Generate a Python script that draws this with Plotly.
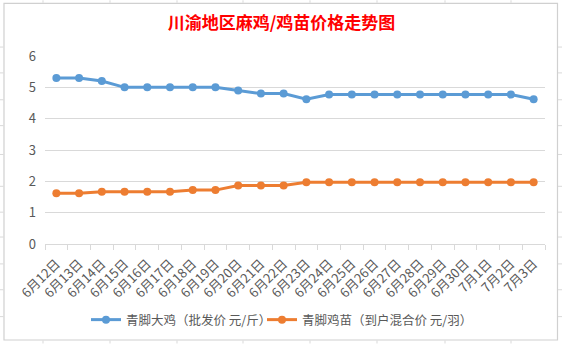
import plotly.graph_objects as go

dates = ["6月12日", "6月13日", "6月14日", "6月15日", "6月16日", "6月17日", "6月18日", "6月19日",
         "6月20日", "6月21日", "6月22日", "6月23日", "6月24日", "6月25日", "6月26日", "6月27日",
         "6月28日", "6月29日", "6月30日", "7月1日", "7月2日", "7月3日"]
big_chicken = [5.3, 5.3, 5.2, 5.0, 5.0, 5.0, 5.0, 5.0, 4.9, 4.8, 4.8, 4.62,
               4.77, 4.77, 4.77, 4.77, 4.77, 4.77, 4.77, 4.77, 4.77, 4.62]
chick = [1.62, 1.62, 1.67, 1.67, 1.67, 1.67, 1.72, 1.72, 1.87, 1.87, 1.87, 1.97,
         1.97, 1.97, 1.97, 1.97, 1.97, 1.97, 1.97, 1.97, 1.97, 1.97]
name1 = "青脚大鸡（批发价 元/斤）"
name2 = "青脚鸡苗（到户混合价 元/羽）"
title = "川渝地区麻鸡/鸡苗价格走势图"

W, H = 562, 345
L, R, T, B = 45, 17, 56, 100
FONT = "Noto Sans CJK SC"
GRAY = "#595959"
GRID = "#d9d9d9"

fig = go.Figure()
fig.add_trace(go.Scatter(x=dates, y=big_chicken, name=name1, mode="lines+markers",
                         line=dict(color="#5b9bd5", width=3),
                         marker=dict(color="#5b9bd5", size=8), legend="legend"))
fig.add_trace(go.Scatter(x=dates, y=chick, name=name2, mode="lines+markers",
                         line=dict(color="#ed7d31", width=3),
                         marker=dict(color="#ed7d31", size=8), legend="legend2"))

pw, ph = W - L - R, H - T - B
def px(x):
    return (x - L) / pw
def py(y):
    return (H - B - y) / ph

shapes = []
# chart outer border
shapes.append(dict(type="rect", xref="paper", yref="paper",
                   x0=px(4), x1=px(557.5), y0=py(341.5), y1=py(3),
                   line=dict(color="#d0d0d0", width=1.2), layer="below"))
# spreadsheet grid fragments outside the chart
for yy in [47, 73, 100, 126, 155, 187, 213, 238, 265, 291, 318]:
    shapes.append(dict(type="line", xref="paper", yref="paper", x0=px(0), x1=px(3.5),
                       y0=py(yy), y1=py(yy), line=dict(color="#d9d9d9", width=1)))
    shapes.append(dict(type="line", xref="paper", yref="paper", x0=px(558), x1=px(562),
                       y0=py(yy), y1=py(yy), line=dict(color="#d9d9d9", width=1)))
for xx in [43, 110, 177, 243, 310, 377, 445, 511]:
    shapes.append(dict(type="line", xref="paper", yref="paper", x0=px(xx), x1=px(xx),
                       y0=py(0), y1=py(2.5), line=dict(color="#d9d9d9", width=1)))
    shapes.append(dict(type="line", xref="paper", yref="paper", x0=px(xx), x1=px(xx),
                       y0=py(342), y1=py(345), line=dict(color="#d9d9d9", width=1)))

leg_common = dict(orientation="h", xanchor="left", y=py(320), yanchor="middle",
                  font=dict(family=FONT, size=12.5, color=GRAY), itemwidth=30,
                  bgcolor="rgba(0,0,0,0)")

fig.update_layout(
    width=W, height=H,
    margin=dict(l=L, r=R, t=T, b=B),
    paper_bgcolor="white", plot_bgcolor="white",
    font=dict(family=FONT, color=GRAY, size=12),
    title=dict(text="<b>" + title + "</b>", x=281.5 / W, xanchor="center",
               y=1 - 23 / H, yanchor="middle", yref="container",
               font=dict(family=FONT, size=17, color="#ff0000")),
    showlegend=True,
    legend=dict(x=px(86), **leg_common),
    legend2=dict(x=px(262), **leg_common),
    shapes=shapes,
)
fig.update_xaxes(type="category", range=[-0.5, len(dates) - 0.5], tickangle=-45,
                 tickson="boundaries", ticks="outside", ticklen=5, tickcolor=GRID,
                 showline=True, linecolor=GRID, linewidth=1, showgrid=False,
                 tickfont=dict(family=FONT, size=13, color=GRAY), ticklabelstandoff=6,
                 fixedrange=True)
fig.update_yaxes(range=[0, 6], dtick=1, showgrid=True, gridcolor=GRID, gridwidth=1,
                 zeroline=False, showline=False, ticks="",
                 tickfont=dict(family=FONT, size=13, color=GRAY), ticklabelstandoff=8)

fig.write_html("out.html")
